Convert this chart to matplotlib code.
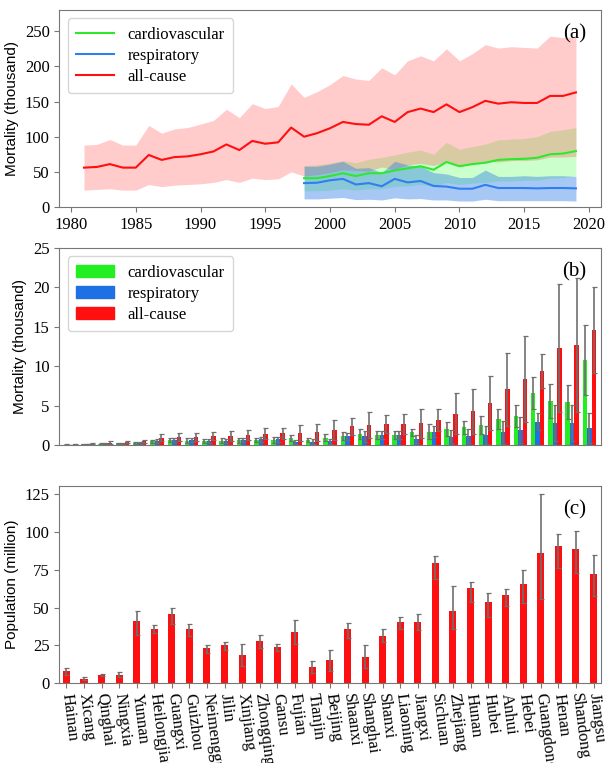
import numpy as np
import matplotlib
matplotlib.use("Agg")
import matplotlib.pyplot as plt
from matplotlib.patches import Patch

plt.rcParams['font.family'] = 'serif'
plt.rcParams['font.serif'] = ['Liberation Serif', 'DejaVu Serif']

# ---------------- national series (thousand deaths) ----------------
years_all = list(range(1981, 2020))
years_sub = list(range(1998, 2020))

allcause_mean = [56, 57, 61, 56, 56, 74, 67, 71, 72, 75,
                 79, 89, 81, 94, 90, 92, 113, 100, 105, 112,
                 121, 118, 117, 129, 121, 135, 140, 135, 146, 135,
                 142, 151, 147, 149, 148, 148, 158, 158, 163]
allcause_upper = [88, 89, 96, 88, 88, 116, 105, 111, 113, 118,
                  123, 139, 127, 147, 140, 143, 175, 156, 164, 174,
                  187, 182, 180, 198, 188, 208, 215, 208, 225, 208,
                  218, 231, 226, 228, 227, 226, 243, 241, 242]
allcause_lower = [24, 25, 26, 24, 24, 32, 29, 31, 32, 33,
                  35, 39, 35, 41, 39, 40, 50, 44, 46, 49,
                  53, 52, 51, 57, 53, 60, 62, 59, 64, 59,
                  62, 65, 64, 66, 66, 67, 71, 71, 72]

cardio_mean = [41, 41, 44, 48, 44, 48, 48, 52, 55, 58, 53,
               64, 58, 61, 63, 67, 68, 68.5, 70, 75, 76, 79.5]
cardio_upper = [59, 60, 62.5, 66, 63, 68, 70.5, 74, 78, 81, 75,
                92, 82, 86, 89.5, 95.5, 96.5, 97.5, 100, 107.5, 110, 113]
cardio_lower = [23, 23, 24, 26, 24, 26, 26, 29, 30, 32, 29,
                35, 32, 34, 35, 37, 37, 38, 38, 41, 42, 44]

resp_mean = [34, 34.5, 38, 40, 32, 34, 29.5, 40, 35, 37, 30,
             29, 26, 26, 31.5, 27, 27, 27, 26.5, 27, 27, 26.5]
resp_upper = [58, 58, 61, 65, 55, 56, 49, 65, 60, 58, 49,
              47, 42, 42, 52.5, 43.5, 43.5, 44.5, 43.5, 44.5, 44.5, 43.5]
resp_lower = [11.5, 11.5, 12.5, 13.5, 10.5, 11, 10, 13, 11.5, 12, 10,
              10, 8.5, 8.5, 11, 9, 9, 9, 9, 9, 9, 8.5]

# ---------------- provincial values ----------------
provinces = ["Hainan", "Xicang", "Qinghai", "Ningxia", "Yunnan", "Heilongjiang",
             "Guangxi", "Guizhou", "Neimenggu", "Jilin", "Xinjiang", "Zhongqing",
             "Gansu", "Fujian", "Tianjin", "Beijing", "Shaanxi", "Shanghai",
             "Shanxi", "Liaoning", "Jiangxi", "Sichuan", "Zhejiang", "Hunan",
             "Hubei", "Anhui", "Hebei", "Guangdong", "Henan", "Shandong", "Jiangsu"]

prov_cardio = [0.05, 0.08, 0.15, 0.2, 0.25, 0.45, 0.65, 0.55, 0.5, 0.55, 0.6,
               0.65, 0.65, 0.9, 0.65, 0.95, 1.1, 1.4, 1.25, 1.25, 1.6,
               1.68, 2.0, 2.23, 2.57, 3.28, 3.7, 6.57, 5.56, 5.43, 10.8]
prov_cardio_err = [0.02, 0.03, 0.05, 0.08, 0.1, 0.2, 0.3, 0.3, 0.3, 0.3, 0.3,
                   0.3, 0.35, 0.35, 0.3, 0.4, 0.5, 0.6, 0.55, 0.55, 0.4,
                   0.97, 0.86, 0.84, 1.13, 1.27, 1.43, 2.06, 2.14, 2.15, 4.4]
prov_resp = [0.03, 0.1, 0.15, 0.2, 0.3, 0.5, 0.6, 0.6, 0.5, 0.55, 0.65,
             0.7, 0.7, 0.4, 0.4, 0.45, 1.1, 1.1, 1.25, 1.25, 0.76,
             1.68, 1.05, 1.09, 1.26, 1.6, 1.85, 2.95, 2.78, 2.78, 2.1]
prov_resp_err = [0.02, 0.03, 0.05, 0.08, 0.12, 0.2, 0.25, 0.25, 0.25, 0.25, 0.3,
                 0.3, 0.3, 0.25, 0.3, 0.3, 0.45, 0.7, 0.5, 0.5, 0.45,
                 0.7, 0.85, 0.9, 1.1, 1.47, 1.65, 1.1, 2.3, 2.3, 1.9]
prov_all = [0.08, 0.15, 0.3, 0.35, 0.45, 0.95, 1.0, 1.0, 1.1, 1.18, 1.25,
            1.4, 1.5, 1.55, 1.6, 1.9, 2.35, 2.55, 2.65, 2.65, 2.78,
            3.2, 3.96, 4.29, 5.3, 7.07, 8.33, 9.34, 12.3, 12.7, 14.6]
prov_all_err = [0.03, 0.06, 0.15, 0.12, 0.15, 0.45, 0.5, 0.5, 0.5, 0.62, 0.65,
                0.7, 0.7, 1.05, 1.1, 1.3, 1.05, 1.65, 1.15, 1.25, 1.85,
                1.43, 2.6, 2.86, 3.45, 4.63, 5.47, 2.16, 8.15, 8.5, 5.4]

population = [8, 3, 5.3, 5.6, 41, 36, 46, 35.5, 23, 25.5, 18.5, 28, 24, 34, 10.5, 15,
              35.5, 17.5, 31.5, 40.5, 40.5, 79.5, 48, 63, 54, 58.5, 65.5, 86, 91, 89, 72.5]
population_hi = [10, 3.8, 6, 7.2, 47.5, 38.5, 50, 39, 25, 27.5, 26, 32, 26, 41.5, 14.5, 22,
                 39.5, 25, 35.5, 44, 45.5, 84, 64, 67, 60, 62.5, 75, 125, 99, 101, 85]
population_lo = [5.5, 2, 4.5, 4.2, 32, 33, 39, 31, 20, 22, 11, 23, 21, 26, 6.5, 8,
                 30, 10, 27, 36, 35, 69, 36, 54, 44, 51, 53, 56, 76, 73, 58]

c_green = '#22ee22'
c_blue = '#1f6fe5'
c_red = '#ff0f0f'
c_err = '#6f6f6f'
c_spine = '#777777'

fig = plt.figure(figsize=(6.06, 7.63), dpi=100)
left, width, height = 0.098, 0.893, 0.258
ax1 = fig.add_axes([left, 0.7287, width, height])
ax2 = fig.add_axes([left, 0.4168, width, height])
ax3 = fig.add_axes([left, 0.1048, width, height])

for ax in (ax1, ax2, ax3):
    for sp in ax.spines.values():
        sp.set_color(c_spine)
    ax.tick_params(colors=c_spine, labelcolor='black', labelsize=12, length=3.5)

ylabel_font = dict(family='Liberation Sans', fontsize=11)

# (a) national time series with uncertainty bands
ax1.fill_between(years_sub, cardio_lower, cardio_upper, color='#33ff33', alpha=0.25, lw=0)
ax1.fill_between(years_all, allcause_lower, allcause_upper, color='#ff3030', alpha=0.25, lw=0)
ax1.fill_between(years_sub, resp_lower, resp_upper, color='#2e7ee8', alpha=0.42, lw=0)
ax1.plot(years_sub, cardio_mean, color='#2ee82e', lw=1.5, label='cardiovascular')
ax1.plot(years_sub, resp_mean, color='#2f7ff0', lw=1.5, label='respiratory')
ax1.plot(years_all, allcause_mean, color=c_red, lw=1.5, label='all-cause')
ax1.set_ylim(0, 280)
ax1.set_yticks([0, 50, 100, 150, 200, 250])
ax1.set_xticks(range(1980, 2021, 5))
ax1.set_ylabel('Mortality (thousand)', **ylabel_font)
ax1.legend(loc='upper left', fontsize=12, labelspacing=0.3, handlelength=2.3,
           borderpad=0.5, edgecolor='#cccccc')
ax1.text(0.952, 0.88, '(a)', transform=ax1.transAxes, ha='center', va='center', fontsize=15)

# (b) provincial mortality, grouped bars
x = np.arange(len(provinces))
w = 0.26
ekw = dict(ecolor=c_err, elinewidth=1.2, capsize=1.8, capthick=0.9)
ax2.bar(x - w, prov_cardio, w, yerr=prov_cardio_err, color=c_green, error_kw=ekw)
ax2.bar(x, prov_resp, w, yerr=prov_resp_err, color=c_blue, error_kw=ekw)
ax2.bar(x + w, prov_all, w, yerr=prov_all_err, color=c_red, error_kw=ekw)
ax2.set_xlim(-0.64, len(provinces) - 1 + 0.64)
ax2.set_ylim(0, 25)
ax2.set_xticks([])
ax2.set_ylabel('Mortality (thousand)', **ylabel_font)
handles = [Patch(color=c_green), Patch(color=c_blue), Patch(color=c_red)]
ax2.legend(handles, ['cardiovascular', 'respiratory', 'all-cause'], loc='upper left',
           fontsize=12, labelspacing=0.3, handlelength=2.3, borderpad=0.5, edgecolor='#cccccc')
ax2.text(0.952, 0.88, '(b)', transform=ax2.transAxes, ha='center', va='center', fontsize=15)

# (c) provincial population
pop = np.array(population)
pop_err = [pop - np.array(population_lo), np.array(population_hi) - pop]
ax3.bar(x, pop, 0.4, yerr=pop_err, color=c_red, error_kw=ekw)
ax3.set_xlim(-0.4, len(provinces) - 1 + 0.4)
ax3.set_ylim(0, 130.5)
ax3.set_yticks([0, 25, 50, 75, 100, 125])
ax3.set_xticks(x)
ax3.set_xticklabels(provinces, rotation=-83, ha='left', va='center', rotation_mode='anchor')
ax3.tick_params(axis='x', pad=4)
ax3.set_ylabel('Population (million)', **ylabel_font)
ax3.text(0.952, 0.88, '(c)', transform=ax3.transAxes, ha='center', va='center', fontsize=15)

fig.savefig('out.png', dpi=100)
